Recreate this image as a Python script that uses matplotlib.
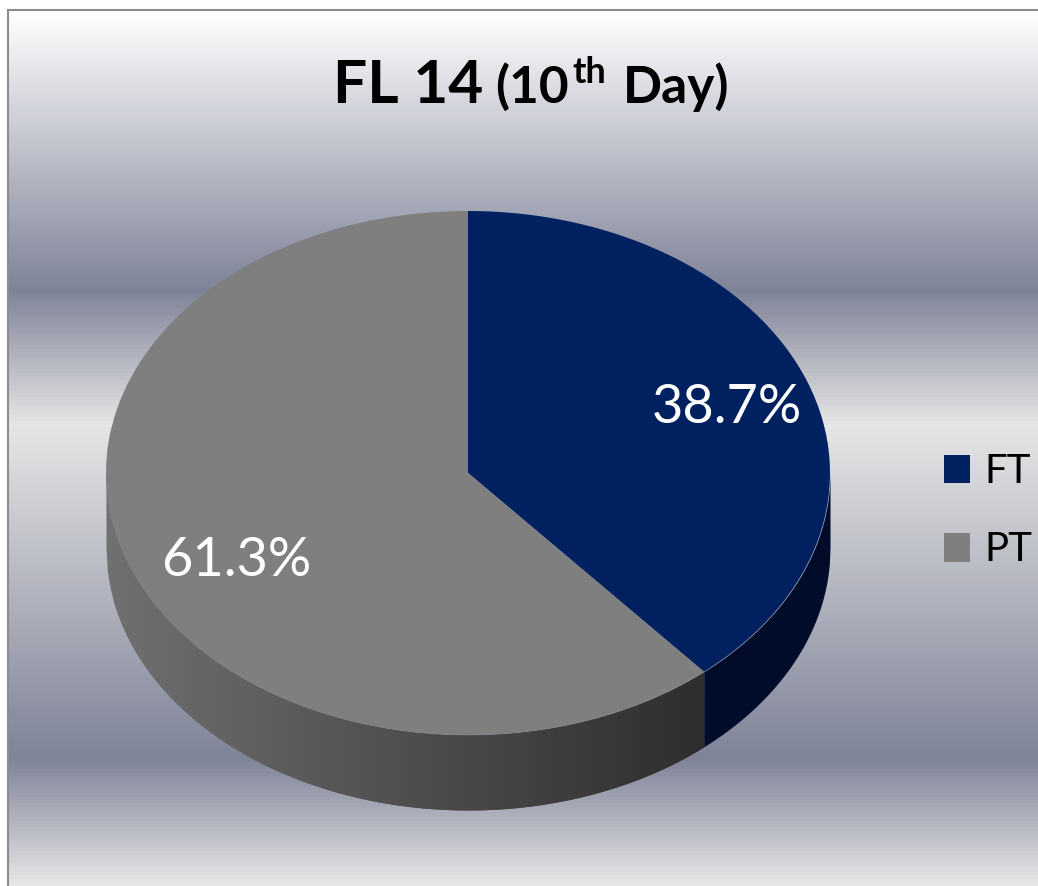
import numpy as np
import matplotlib
matplotlib.use("Agg")
import matplotlib.pyplot as plt
from matplotlib.colors import LinearSegmentedColormap

labels = ["FT", "PT"]
shares = [38.7, 61.3]
pct_text = ["38.7%", "61.3%"]
colors = ["#002060", "#7f7f7f"]
wall_ft = "#000c2a"

W, H = 1038, 886
# pie ellipse in pixels
cx, cy, rx, ry, depth = 468, 473, 362, 262, 75

plt.rcParams["font.family"] = ["Lato", "DejaVu Sans"]

fig = plt.figure(figsize=(W / 100, H / 100), dpi=100, facecolor="white")

# ---------------- background ----------------
bg = fig.add_axes([8 / W, 0, 1 - 8 / W, (H - 10) / H])
stops = [(0.0, "#ffffff"), (0.319, "#7f8398"), (0.473, "#e6e6e6"),
         (0.856, "#7f8398"), (1.0, "#e6e6e6")]
cmap = LinearSegmentedColormap.from_list("bg", stops)
bg.imshow(np.linspace(0, 1, 876).reshape(-1, 1), cmap=cmap, aspect="auto", vmin=0, vmax=1)
bg.set_xticks([])
bg.set_yticks([])
for s in ["bottom", "right"]:
    bg.spines[s].set_visible(False)
for s in ["top", "left"]:
    bg.spines[s].set_color("#8c8c8c")
    bg.spines[s].set_linewidth(1.5)

# ---------------- pie ----------------
ax = fig.add_axes([0, 0, 1, 1])
ax.patch.set_alpha(0)
wedges, _ = ax.pie(shares, colors=colors, startangle=90, counterclock=False, radius=1)
ax.set_aspect("auto")
ax.set_xlim(-cx / rx, (W - cx) / rx)
ax.set_ylim((cy - H) / ry, cy / ry)
ax.set_axis_off()
for w in wedges:
    w.set_zorder(5)

# side wall: PT shaded in strips, FT flat
d = depth / ry
split = np.sin(np.deg2rad(shares[0] * 3.6))
edges = np.linspace(-1, split, 81)
for i in range(80):
    xx = np.linspace(edges[i], edges[min(i + 2, 80)], 12)
    top = -np.sqrt(np.clip(1 - xx**2, 0, 1))
    t = i / 79
    g = int(0x70 + (0x2e - 0x70) * t)
    ax.fill_between(xx, top, top - d, color="#%02x%02x%02x" % (g, g, g), lw=0,
                    antialiased=False, zorder=2 + i * 0.001)
xx = np.linspace(split, 1, 200)
top = -np.sqrt(1 - xx**2)
ax.fill_between(xx, top, top - d, color=wall_ft, lw=0, zorder=3)

# percent labels
ax.text((727 - cx) / rx, (cy - 407) / ry, pct_text[0], color="white", fontsize=39,
        ha="center", va="center", zorder=6)
ax.text((236 - cx) / rx, (cy - 560) / ry, pct_text[1], color="white", fontsize=39,
        ha="center", va="center", zorder=6)

# legend
ax.legend(wedges, labels, loc="upper left", bbox_to_anchor=(944 / W, 1 - 453 / H),
          frameon=False, fontsize=29, handlelength=0.65, handleheight=0.72,
          handletextpad=0.35, labelspacing=1.03, borderpad=0, borderaxespad=0)

# ---------------- title ----------------
def px_text(x, y, s, size):
    fig.text(x / W, 1 - y / H, s, fontsize=size, fontweight="bold", color="black",
             ha="left", va="baseline")

px_text(333, 103, "FL 14", 43.5)
px_text(495, 103, "(10", 37)
px_text(572, 83, "th", 26)
px_text(623, 103, "Day)", 37)

fig.savefig("out.png", dpi=100)
plt.close(fig)
